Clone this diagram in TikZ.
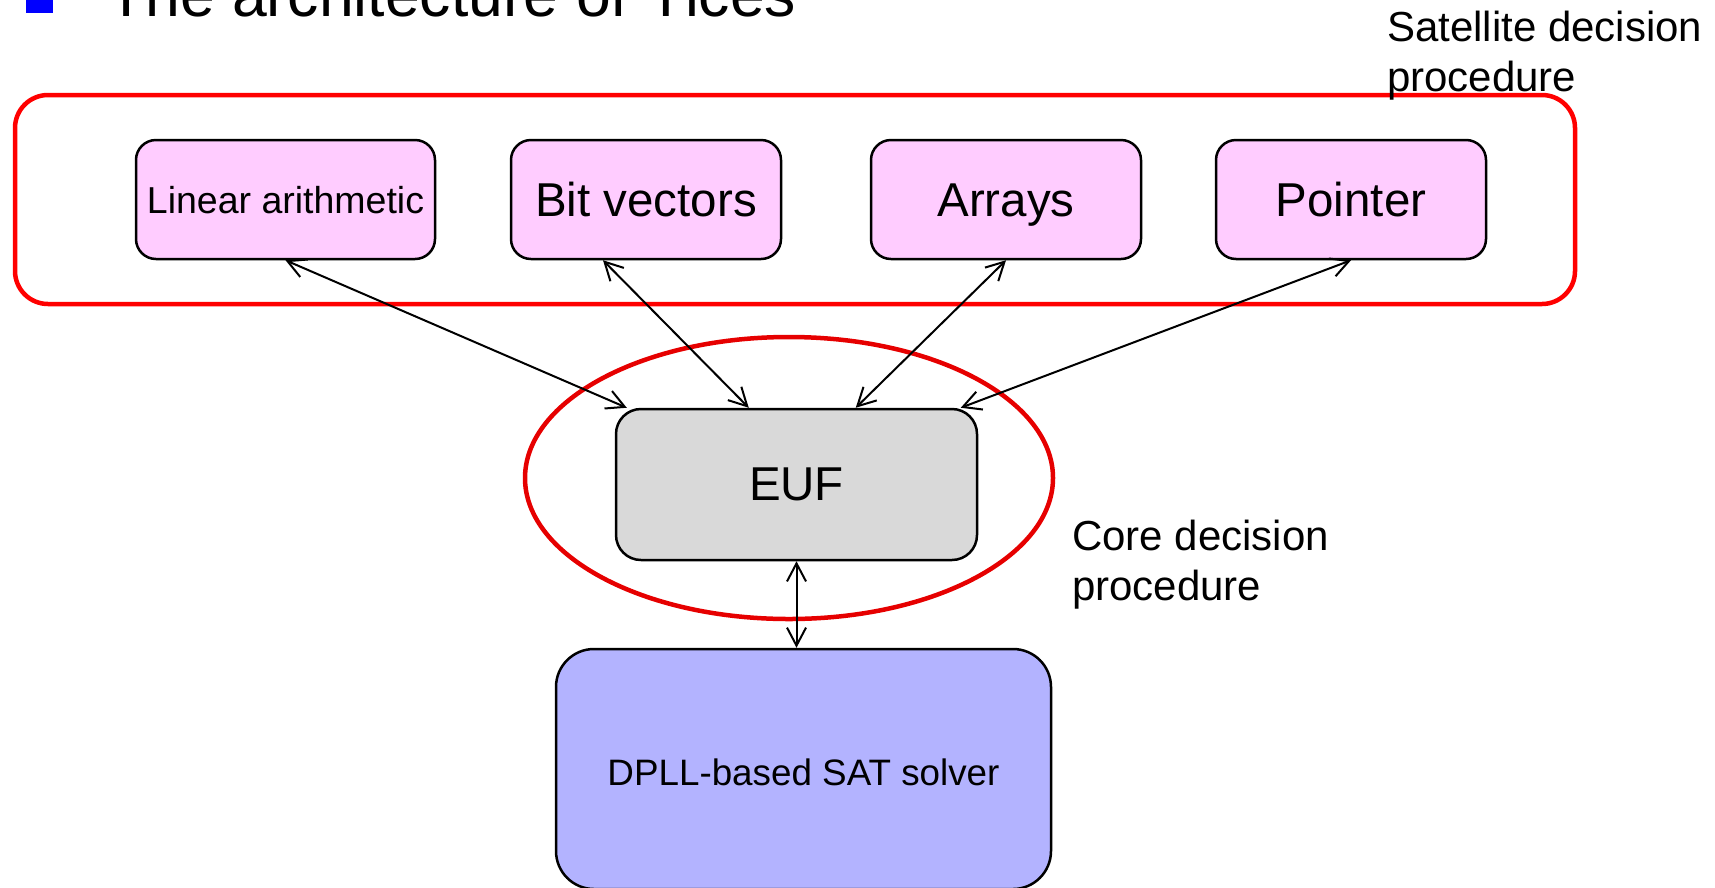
\documentclass[tikz,border=0pt]{standalone}
\usepackage{fontspec}
\setmainfont{Liberation Sans}
\usetikzlibrary{arrows.meta,calc,shapes.geometric}
\definecolor{pinkfill}{HTML}{FFCCFF}
\definecolor{euffill}{HTML}{D9D9D9}
\definecolor{satfill}{HTML}{B3B3FF}
\definecolor{redline}{HTML}{FF0000}
\definecolor{ellred}{HTML}{E60000}
\definecolor{bulletblue}{HTML}{0000FF}
\begin{document}
\begin{tikzpicture}[x=1pt,y=-1pt,
  theory/.style={draw=black,line width=2.5pt,fill=pinkfill,rounded corners=20pt,
    minimum width=270pt,minimum height=119pt,inner sep=0pt,
    text height=42pt,text depth=8pt,font=\fontsize{47.5}{57}\selectfont},
  link/.style={line width=2pt,{Straight Barb[length=18pt,width=19pt]}-{Straight Barb[length=18pt,width=19pt]}},
  txtlabel/.style={anchor=base west,inner sep=0pt,font=\fontsize{42}{50}\selectfont},
  groupbox/.style={draw=redline,line width=4.5pt,inner sep=0pt}
]
\useasboundingbox (0,0) rectangle (1715,887);
\clip (0,0) rectangle (1715,887);

% title (cut off at the top)
\fill[bulletblue] (26,-15) rectangle (53,12.7);
\node[anchor=base west,inner sep=0pt,font=\fontsize{62.5}{70}\selectfont] (title) at (107,16) {The architecture of Yices};

% red groupings
\node[groupbox,rounded corners=33pt,minimum width=1560pt,minimum height=209pt] (satgroup) at (795,199.5) {};
\node[groupbox,draw=ellred,ellipse,minimum width=528pt,minimum height=282pt] (coregroup) at (789,478) {};

% labels
\node[txtlabel] (satlabel) at (1387,41) {\begin{tabular}[t]{@{}l@{}}Satellite decision\\procedure\end{tabular}};
\node[txtlabel] (corelabel) at (1072,550) {\begin{tabular}[t]{@{}l@{}}Core decision\\procedure\end{tabular}};

% theory boxes
\node[theory,minimum width=299pt,text height=30pt,text depth=3pt,font=\fontsize{37.5}{45}\selectfont] (lin) at (285.5,199.5) {Linear arithmetic};
\node[theory] (bit) at (646,199.5) {Bit vectors};
\node[theory] (arr) at (1006,199.5) {Arrays};
\node[theory] (ptr) at (1351,199.5) {Pointer};

% core
\node[draw=black,line width=2.5pt,fill=euffill,rounded corners=25pt,minimum width=361pt,minimum height=151pt,inner sep=0pt,font=\fontsize{47.5}{57}\selectfont] (euf) at (796.5,484.5) {EUF};

% SAT solver
\node[draw=black,line width=2.5pt,fill=satfill,rounded corners=38pt,minimum width=495pt,minimum height=240pt,inner sep=0pt,text height=33pt,text depth=0pt,font=\fontsize{36.8}{44}\selectfont] (sat) at (803.5,769) {DPLL-based SAT solver};

% connectors
\draw[link] (lin.south) -- ([xshift=12pt]euf.north west);
\draw[link] ([xshift=-43pt]bit.south) -- ([xshift=134pt]euf.north west);
\draw[link] (arr.south) -- ([xshift=241pt]euf.north west);
\draw[link] (ptr.south) -- ([xshift=346pt]euf.north west);
\draw[link] (euf.south) -- (euf.south |- sat.north);
\end{tikzpicture}
\end{document}
